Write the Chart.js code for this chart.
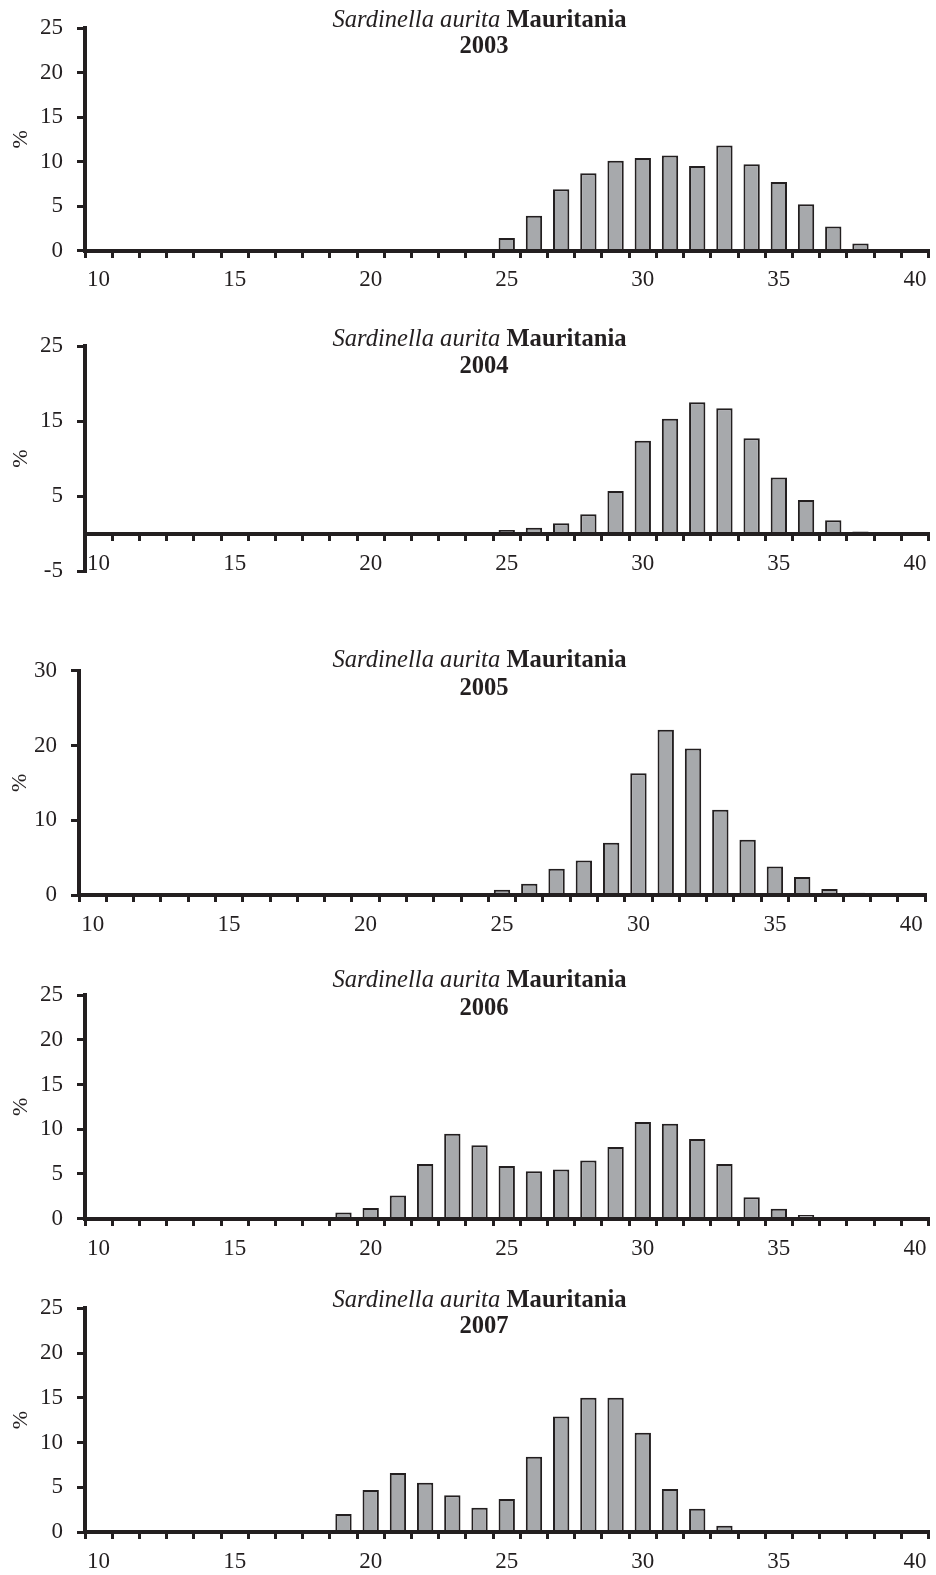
<!DOCTYPE html>
<html>
<head>
<meta charset="utf-8">
<script src="https://cdn.jsdelivr.net/npm/chart.js@4.4.1/dist/chart.umd.min.js"></script>
<style>
  html, body { margin: 0; padding: 0; background: #ffffff; width: 936px; height: 1575px; overflow: hidden; }
  .panel { position: absolute; left: 0; width: 936px; }
  .panel canvas { position: absolute; left: 0; top: 0; }
  .t { position: absolute; width: 500px; text-align: center; font-family: "Liberation Serif", "Times New Roman", serif;
       font-size: 24.6px; line-height: 26px; color: #231f20; white-space: nowrap; }
  .t i { font-style: italic; font-weight: normal; }
  .t b { font-weight: bold; }
</style>
</head>
<body>
<script>
// ---------------- DATA ----------------
const lengthClasses = ['10','11','12','13','14','15','16','17','18','19','20','21','22','23','24','25',
                       '26','27','28','29','30','31','32','33','34','35','36','37','38','39','40'];
const xTickLabels = ['10','15','20','25','30','35','40'];

const years = ['2003','2004','2005','2006','2007'];
const speciesName = 'Sardinella aurita';
const countryName = 'Mauritania';
const yAxisLabel = '%';

//            10 11 12 13 14 15 16 17 18   19   20   21   22   23   24   25   26   27   28   29    30    31    32    33    34    35   36   37   38   39 40
const pct2003 = [0, 0, 0, 0, 0, 0, 0, 0, 0,   0,   0,   0,   0,   0,   0,   1.4, 3.9, 6.9, 8.7, 10.1, 10.4, 10.7, 9.5,  11.8, 9.7,  7.7, 5.2, 2.7, 0.8, 0, 0];
const pct2004 = [0, 0, 0, 0, 0, 0, 0, 0, 0,   0,   0,   0,   0,   0,   0,   0.5, 0.8, 1.4, 2.6, 5.7,  12.4, 15.3, 17.5, 16.7, 12.7, 7.5, 4.5, 1.8, 0.3, 0, 0];
const pct2005 = [0, 0, 0, 0, 0, 0, 0, 0, 0,   0,   0,   0,   0,   0,   0,   0.7, 1.5, 3.5, 4.6, 7.0,  16.3, 22.1, 19.6, 11.4, 7.4,  3.8, 2.4, 0.8, 0.3, 0, 0];
const pct2006 = [0, 0, 0, 0, 0, 0, 0, 0, 0.2, 0.7, 1.2, 2.6, 6.1, 9.5, 8.2, 5.9, 5.3, 5.5, 6.5, 8.0,  10.8, 10.6, 8.9,  6.1,  2.4,  1.1, 0.4, 0,   0,   0, 0];
const pct2007 = [0, 0, 0, 0, 0, 0, 0, 0, 0.1, 2.0, 4.7, 6.6, 5.5, 4.1, 2.7, 3.7, 8.4, 12.9,15.0,15.0, 11.1, 4.8,  2.6,  0.7,  0.2,  0,   0,   0,   0,   0, 0];

const yMins  = [0, -5, 0, 0, 0];
const yMaxs  = [25, 25, 30, 25, 25];
const ySteps = [5, 10, 10, 5, 5];

// ---------------- STYLE / LAYOUT ----------------
const INK = '#231f20';
const BAR_FILL = '#a7a9ac';
const FONT = '"Liberation Serif", "Times New Roman", serif';
Chart.defaults.font.family = FONT;
Chart.defaults.color = INK;

const seriesByPanel = [pct2003, pct2004, pct2005, pct2006, pct2007];
// pixel geometry of each panel (canvas band and plot area)
const panelGeom = [
  { cTop: 0,    cBot: 300,  top: 28.3,   bot: 250.5,  left: 85, right: 928.5, padL: 8,   t1: 6.2,    t2: 32.2 },
  { cTop: 300,  cBot: 620,  top: 346,    bot: 571.3,  left: 85, right: 928.5, padL: 8,   t1: 324.9,  t2: 352.2 },
  { cTop: 620,  cBot: 950,  top: 670.7,  bot: 895,    left: 79, right: 925,   padL: 7.3, t1: 645.6,  t2: 673.9 },
  { cTop: 950,  cBot: 1270, top: 995,    bot: 1218.7, left: 85, right: 928.5, padL: 8,   t1: 966.2,  t2: 993.9 },
  { cTop: 1270, cBot: 1575, top: 1308.3, bot: 1532,   left: 85, right: 928.5, padL: 8,   t1: 1285.6, t2: 1312.2 }
];
const TITLE1_CX = 479.5, TITLE2_CX = 484;

function addTitle(g, year) {
  const l1 = document.createElement('div');
  l1.className = 't';
  l1.style.top = g.t1 + 'px';
  l1.style.left = (TITLE1_CX - 250) + 'px';
  const it = document.createElement('i'); it.textContent = speciesName;
  const bd = document.createElement('b'); bd.textContent = countryName;
  l1.appendChild(it); l1.appendChild(document.createTextNode(' ')); l1.appendChild(bd);
  document.body.appendChild(l1);
  const l2 = document.createElement('div');
  l2.className = 't';
  l2.style.top = g.t2 + 'px';
  l2.style.left = (TITLE2_CX - 250) + 'px';
  const b2 = document.createElement('b'); b2.textContent = year;
  l2.appendChild(b2);
  document.body.appendChild(l2);
}

function makePanel(idx) {
  const g = panelGeom[idx];
  const div = document.createElement('div');
  div.className = 'panel';
  div.style.top = g.cTop + 'px';
  const h = g.cBot - g.cTop;
  div.style.height = h + 'px';
  const canvas = document.createElement('canvas');
  canvas.width = 936; canvas.height = h;
  canvas.style.width = '936px'; canvas.style.height = h + 'px';
  div.appendChild(canvas);
  document.body.appendChild(div);

  const tickGrid = (len) => ({
    display: true, drawOnChartArea: false, drawTicks: true, tickLength: len,
    tickWidth: 3, lineWidth: 3, tickColor: INK, color: INK, z: 1
  });

  new Chart(canvas, {
    type: 'bar',
    data: {
      labels: lengthClasses,
      datasets: [{
        label: years[idx],
        data: seriesByPanel[idx],
        backgroundColor: BAR_FILL,
        borderColor: INK,
        borderWidth: 2,
        borderSkipped: 'start',
        barPercentage: 0.6,
        categoryPercentage: 1.0
      }]
    },
    options: {
      responsive: false,
      maintainAspectRatio: false,
      animation: false,
      events: [],
      layout: { padding: { left: g.padL, right: 936 - g.right, top: g.top - g.cTop, bottom: g.cBot - g.bot } },
      plugins: { legend: { display: false }, tooltip: { enabled: false }, title: { display: false } },
      scales: {
        x: {
          type: 'category',
          position: { y: 0 },
          offset: true,
          grid: Object.assign(tickGrid(5), { offset: true }),
          border: { display: true, color: INK, width: 4, z: 1 },
          ticks: {
            autoSkip: false, maxRotation: 0, minRotation: 0, padding: 11, color: INK,
            font: { family: FONT, size: 23 },
            callback: function (v) {
              const l = this.getLabelForValue(v);
              return xTickLabels.includes(l) ? l : '';
            }
          },
          afterFit: (s) => { s.paddingLeft = 0; s.paddingRight = 0; s.paddingTop = 0; s.paddingBottom = 0; }
        },
        y: {
          type: 'linear',
          position: 'left',
          min: yMins[idx], max: yMaxs[idx],
          grid: tickGrid(8),
          border: { display: true, color: INK, width: 4, z: 1 },
          ticks: { stepSize: ySteps[idx], padding: 14, color: INK, font: { family: FONT, size: 23 } },
          title: { display: true, text: yAxisLabel, color: INK, font: { family: FONT, size: 22 }, padding: { top: 0, bottom: 0 } },
          afterFit: (s) => { s.width = g.left - g.padL; s.paddingTop = 0; s.paddingBottom = 0; }
        }
      }
    }
  });
  addTitle(g, years[idx]);
}

for (let i = 0; i < years.length; i++) makePanel(i);
</script>
</body>
</html>
